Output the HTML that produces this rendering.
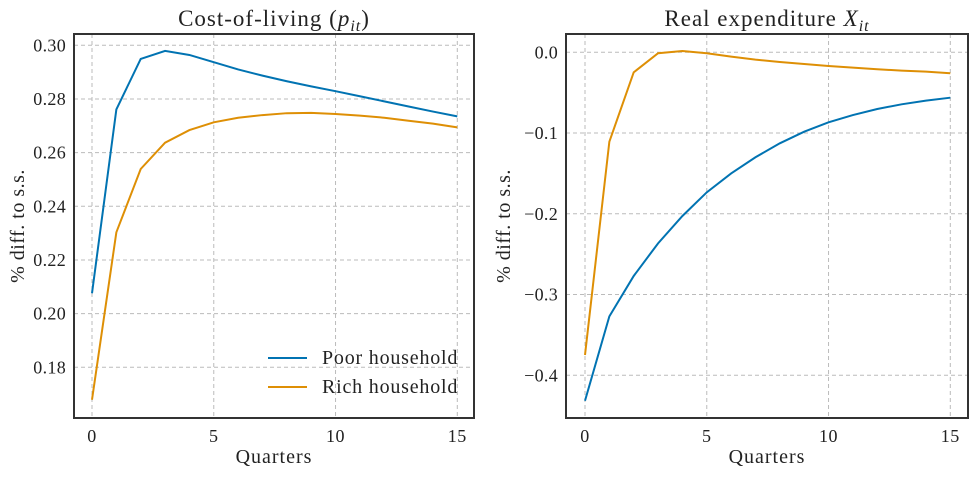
<!DOCTYPE html>
<html><head><meta charset="utf-8"><style>
body{margin:0;background:#fff;}
svg{display:block;font-family:"Liberation Serif",serif;}
</style></head><body>
<svg id="chart" width="977" height="477"></svg>
<script>
const quarters=[0,1,2,3,4,5,6,7,8,9,10,11,12,13,14,15];
const colPoor=[0.2076,0.2761,0.2949,0.2979,0.2964,0.2937,0.2910,0.2887,0.2866,0.2847,0.2829,0.2810,0.2791,0.2772,0.2753,0.2735];
const colRich=[0.1679,0.2303,0.2539,0.2637,0.2684,0.2713,0.2730,0.2740,0.2747,0.2748,0.2744,0.2738,0.2730,0.2719,0.2708,0.2694];
const expPoor=[-0.4315,-0.327,-0.277,-0.2366,-0.2027,-0.1734,-0.150,-0.130,-0.1127,-0.0983,-0.0867,-0.0777,-0.0702,-0.0644,-0.0599,-0.0562];
const expRich=[-0.3749,-0.1107,-0.0248,-0.0012,0.0016,-0.0012,-0.0054,-0.0091,-0.012,-0.0145,-0.017,-0.019,-0.021,-0.0227,-0.024,-0.026];
const xTicks=[0,5,10,15];
const leftYTicks=[0.18,0.20,0.22,0.24,0.26,0.28,0.30];
const rightYTicks=[-0.4,-0.3,-0.2,-0.1,0.0];
const svg=document.getElementById('chart');
const NS='http://www.w3.org/2000/svg';
function mk(t,a,p){const e=document.createElementNS(NS,t);for(const k in a)e.setAttribute(k,a[k]);(p||svg).appendChild(e);return e;}
function panel(o){
  const g=mk('g',{});
  
  
  const xs=v=>o.x0+(v-0)*(o.x15-o.x0)/15;
  const ys=v=>o.yA+(v-o.vA)*(o.yB-o.yA)/(o.vB-o.vA);
  xTicks.forEach(t=>{
    const l=mk('line',{x1:xs(t),x2:xs(t),y1:o.top,y2:o.bot,stroke:'#bbb','stroke-width':1,'stroke-dasharray':'4,3'},g);
    
    const tx=mk('text',{x:xs(t),y:o.bot+24,'text-anchor':'middle','font-size':18,fill:'#222','letter-spacing':0.5},g);
    tx.textContent=t;
    
  });
  o.yt.forEach(t=>{
    const l=mk('line',{x1:o.left,x2:o.right,y1:ys(t),y2:ys(t),stroke:'#bbb','stroke-width':1,'stroke-dasharray':'4,3'},g);
    
    const tx=mk('text',{x:o.left-8,y:ys(t)+6,'text-anchor':'end','font-size':18,fill:'#222','letter-spacing':0.3},g);
    tx.textContent=t.toFixed(o.dec).replace('-','\u2212');
    
  });
  [[o.s1,'#0173b2','poor-household-line'],[o.s2,'#de8f05','rich-household-line']].forEach(([s,c,n])=>{
    const p=mk('polyline',{points:s.map((v,i)=>xs(quarters[i])+','+ys(v)).join(' '),fill:'none',stroke:c,'stroke-width':2},g);
    
  });
  const b=mk('rect',{x:o.left,y:o.top,width:o.right-o.left,height:o.bot-o.top,fill:'none',stroke:'#333','stroke-width':2},g);
  
  const xl=mk('text',{x:(o.left+o.right)/2,y:463,'text-anchor':'middle','font-size':20,fill:'#222','letter-spacing':1},g);
  xl.textContent='Quarters';
  const yl=mk('text',{x:0,y:0,'text-anchor':'middle','font-size':20,fill:'#222','letter-spacing':0.5,transform:`translate(${o.ylx},${(o.top+o.bot)/2}) rotate(-90)`},g);
  yl.textContent='% diff. to s.s.';
  const ti=mk('text',{x:(o.left+o.right)/2,y:26,'text-anchor':'middle','font-size':23,fill:'#222','letter-spacing':1},g);
  ti.innerHTML=o.title;
  return g;
}
panel({name:'cost-of-living-panel',left:74,right:474,top:34,bot:418,x0:92,x15:457.3,yA:45.3,vA:0.30,yB:367.3,vB:0.18,yt:leftYTicks,dec:2,s1:colPoor,s2:colRich,ylx:24,title:'Cost-of-living (<tspan font-style="italic">p</tspan><tspan font-style="italic" font-size="16" dy="5">it</tspan><tspan dy="-5">)</tspan>'});
panel({name:'real-expenditure-panel',left:566,right:968,top:34,bot:418,x0:585,x15:950.3,yA:52.3,vA:0.0,yB:375.3,vB:-0.4,yt:rightYTicks,dec:1,s1:expPoor,s2:expRich,ylx:510,title:'Real expenditure <tspan font-style="italic">X</tspan><tspan font-style="italic" font-size="16" dy="5">it</tspan>'});
const lg=mk('g',{});

[['Poor household','#0173b2',358],['Rich household','#de8f05',387]].forEach(([t,c,y])=>{
  const l=mk('line',{x1:268,x2:307,y1:y,y2:y,stroke:c,'stroke-width':2},lg);
  
  const tx=mk('text',{x:322,y:y+6,'font-size':20,fill:'#222','letter-spacing':0.8},lg);
  tx.textContent=t;
});
</script>
</body></html>
